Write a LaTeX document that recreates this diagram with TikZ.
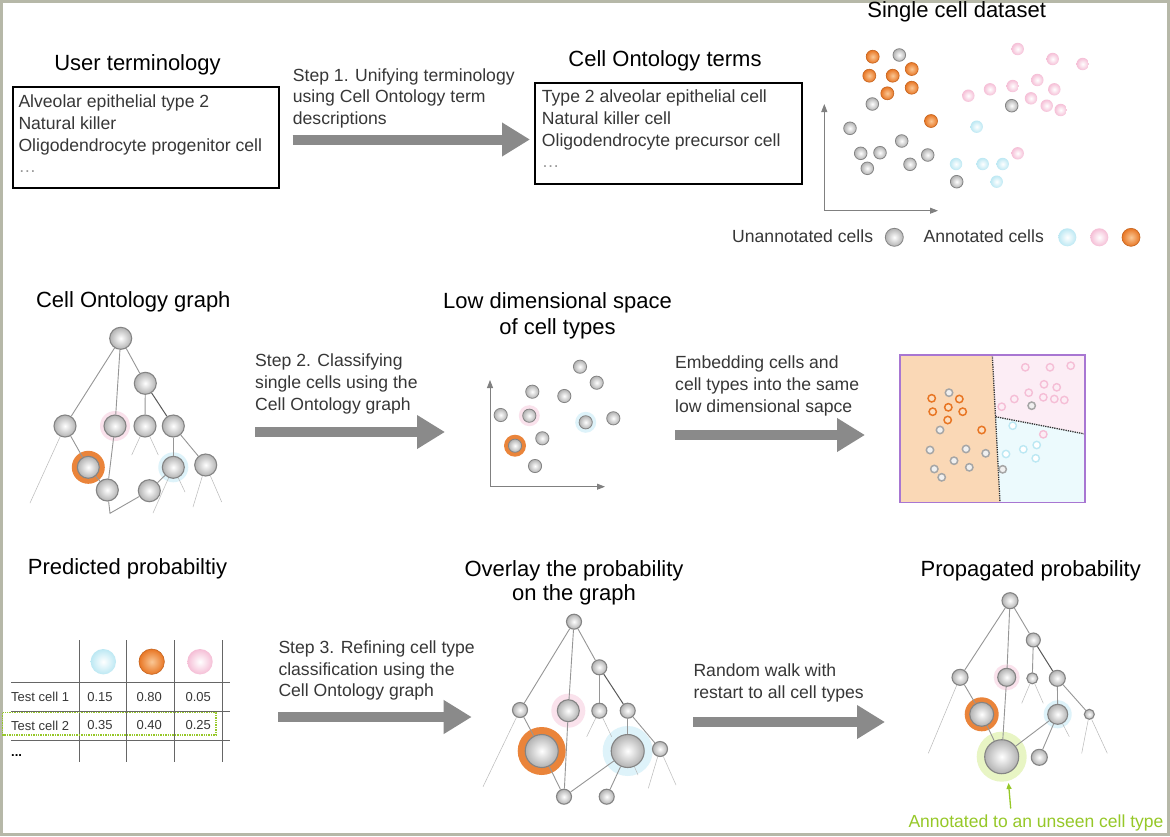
\documentclass[tikz,border=0pt]{standalone}
\usepackage{fontspec}
\setmainfont{Liberation Sans}
\usetikzlibrary{arrows.meta}
\definecolor{corange}{RGB}{232,118,36}
\definecolor{corangelt}{RGB}{250,200,150}
\definecolor{cpink}{RGB}{245,190,214}
\definecolor{cpinkhalo}{RGB}{250,226,236}
\definecolor{cblue}{RGB}{188,232,243}
\definecolor{cbluehalo}{RGB}{222,243,250}
\definecolor{cgreenhalo}{RGB}{232,245,196}
\definecolor{cgreen}{RGB}{150,200,40}
\definecolor{ballgray}{RGB}{178,178,178}
\definecolor{rimgray}{RGB}{132,132,132}
\definecolor{edgegray}{RGB}{150,150,150}
\definecolor{arrgray}{RGB}{138,138,138}
\definecolor{txtgray}{RGB}{55,55,55}
\definecolor{framecol}{RGB}{182,184,168}
\definecolor{cpurple}{RGB}{168,118,210}
\definecolor{cpeach}{RGB}{250,216,182}
\definecolor{cpinkfill}{RGB}{252,237,245}
\definecolor{cbluefill}{RGB}{236,250,253}
\begin{document}
\begin{tikzpicture}[x=1pt,y=-1pt,
  title/.style={font=\fontsize{22}{26.5}\selectfont, inner sep=0pt, align=center},
  body/.style={font=\fontsize{17.6}{21.6}\selectfont, text=txtgray, inner sep=0pt, align=left, anchor=north west},
  tabtext/.style={font=\fontsize{13}{15}\selectfont, text=txtgray, inner sep=0pt},
  gnode/.style={circle, inner sep=0pt, minimum size=#1, draw=rimgray, line width=1.1pt, inner color=white, outer color=ballgray},
  termbox/.style={draw=black, line width=1.8pt, inner sep=0pt, anchor=north west},
  edge/.style={draw=edgegray, line width=0.9pt},
  darkedge/.style={draw=black!65, line width=1pt},
  dangle/.style={draw=gray!55, line width=0.5pt},
  bigarrow/.style={draw=arrgray, line width=10pt, -{Triangle[length=28pt,width=32pt]}},
  axis/.style={draw=gray, line width=0.9pt, {Triangle[length=8pt,width=6pt]}-{Triangle[length=8pt,width=6pt]}},
  sgray/.style={draw=rimgray, line width=0.8pt, inner color=white, outer color=ballgray},
  sorange/.style={draw=corange!85!black, line width=0.6pt, inner color=corangelt, outer color=corange},
  spink/.style={inner color=white, outer color=cpink},
  sblue/.style={inner color=white, outer color=cblue},
  eorange/.style={draw=corange, line width=1.5pt, fill=corangelt!60!white},
  egray/.style={draw=gray!70, line width=1.5pt, fill=gray!12},
  epink/.style={draw=cpink, line width=1.4pt, fill=cpinkfill},
  eblue/.style={draw=cblue, line width=1.4pt, fill=white},
  garrow/.style={draw=cgreen, line width=1.3pt, -{Triangle[length=6pt,width=5pt]}}
]
\useasboundingbox (0,0) rectangle (1170,836);
\fill[white] (0,0) rectangle (1170,836);
\draw[framecol, line width=3pt] (1.5,1.5) rectangle (1168.5,834.5);

%% ---------------- Row 1 ----------------
\node[title] (t1) at (137.5,65) {User terminology};
\node[termbox, minimum width=266.6pt, minimum height=100.7pt] (box1) at (11.7,86) {};
\node[body] (box1txt) at (18.3,95) {Alveolar epithelial type 2\\Natural killer\\Oligodendrocyte progenitor cell\\{\color{gray!80}\ldots}};

\node[body] (s1txt) at (292.7,68.3) {Step 1. Unifying terminology\\using Cell Ontology term\\descriptions};
\coordinate (s1a) at (292.7,139.5);
\coordinate (s1b) at (530,139.5);
\draw[bigarrow] (s1a) -- (s1b);

\node[title] (t2) at (665,61) {Cell Ontology terms};
\node[termbox, minimum width=266.7pt, minimum height=101.6pt] (box2) at (534.3,81.7) {};
\node[body] (box2txt) at (541.7,90) {Type 2 alveolar epithelial cell\\Natural killer cell\\Oligodendrocyte precursor cell\\{\color{gray!80}\ldots}};

\node[title] (t3) at (956.7,11.5) {Single cell dataset};
\coordinate (ax1y) at (824.3,104);
\coordinate (ax1o) at (824.3,210.7);
\coordinate (ax1x) at (938,210.7);
\draw[axis] (ax1y) -- (ax1o) -- (ax1x);
\foreach \p in {(1017.7,49),(1052.7,59),(1082.7,64),(1037.3,80),(1054.3,89.3),(1012.7,86),(990,89.3),(968.3,95.7),(1031,98.3),(1046.7,105.7),(1060.7,110),(1017.7,153.3)}
  \path[spink] \p circle (6.2);
\foreach \p in {(976.7,126.7),(956,164),(982.7,164),(1002.7,164),(996.7,181.7)}
  \path[sblue] \p circle (6.2);
\foreach \p in {(899.3,55),(872.3,104),(850,128.3),(901.7,141),(860.7,153.3),(880,152.7),(927.7,155),(867.3,168.3),(910,164.3),(1011.7,105.7),(956.7,181.7)}
  \path[sgray] \p circle (6.3);
\foreach \p in {(872.7,56.7),(869.3,75.7),(892.7,75.7),(911.7,69),(887.3,93.3),(911.7,87.7),(931,121)}
  \path[sorange] \p circle (6.5);

\node[body, anchor=east] (leg1) at (873.3,236.2) {Unannotated cells};
\path[sgray] (894.3,237.3) circle (9);
\node[body, anchor=west] (leg2) at (923.3,236.2) {Annotated cells};
\path[sblue] (1067.3,237.3) circle (9);
\path[spink] (1099.3,237.3) circle (9);
\path[sorange] (1131,237.3) circle (9);

%% ---------------- Row 2 ----------------
\node[title] (t4) at (133.3,302) {Cell Ontology graph};
\fill[cpinkhalo] (115,426) circle (15);
\fill[cbluehalo] (173.3,467.3) circle (15);
\fill[corange!90] (88.3,467.3) circle (16.5);
\node[gnode=22pt] (a1) at (120.7,338.3) {};
\node[gnode=22pt] (a2) at (145.3,383.3) {};
\node[gnode=22pt] (a3) at (65,426) {};
\node[gnode=22pt] (a4) at (115,426) {};
\node[gnode=22pt] (a5) at (145,426) {};
\node[gnode=22pt] (a6) at (173.3,426) {};
\node[gnode=22pt] (a7) at (88.3,467.3) {};
\node[gnode=22pt] (a8) at (173.3,467.3) {};
\node[gnode=22pt] (a9) at (205.7,465) {};
\node[gnode=22pt] (a10) at (107.3,490) {};
\node[gnode=22pt] (a11) at (149.3,490.7) {};
\coordinate (j1) at (110,513.3);
\coordinate (ad1) at (30,503);
\coordinate (ad2) at (131.7,455);
\coordinate (ad3) at (158.3,455);
\coordinate (ad4) at (185,492);
\coordinate (ad5) at (153,513);
\coordinate (ad6) at (193,507);
\coordinate (ad7) at (221.7,502);
\draw[edge] (a1) -- (a3);
\draw[edge] (a1) -- (a4);
\draw[edge] (a1) -- (a2);
\draw[edge] (a2) -- (a5);
\draw[darkedge] (a2) -- (a6);
\draw[edge] (a3) -- (a7);
\draw[edge] (a4) -- (a10);
\draw[edge] (a6) -- (a8);
\draw[edge] (a6) -- (a9);
\draw[edge] (a7) -- (a10);
\draw[edge] (a10) -- (j1) -- (a11);
\draw[edge] (a11) -- (a8);
\draw[dangle] (a3) -- (ad1);
\draw[dangle] (a5) -- (ad2);
\draw[dangle] (a5) -- (ad3);
\draw[dangle] (a8) -- (ad4);
\draw[dangle] (a8) -- (ad5);
\draw[dangle] (a9) -- (ad6);
\draw[dangle] (a9) -- (ad7);

\node[body] (s2txt) at (255,354) {Step 2. Classifying\\single cells using the\\Cell Ontology graph};
\coordinate (s2a) at (255,432);
\coordinate (s2b) at (445,432);
\draw[bigarrow] (s2a) -- (s2b);

\node[title] (t5) at (557.5,316) {Low dimensional space\\of cell types};
\coordinate (ax2y) at (490,380);
\coordinate (ax2o) at (490,486.7);
\coordinate (ax2x) at (605,486.7);
\draw[axis] (ax2y) -- (ax2o) -- (ax2x);
\fill[cpinkhalo] (529.3,415.7) circle (10.5);
\fill[cbluehalo] (585.7,422.3) circle (10.5);
\fill[corange!90] (515,445.7) circle (11);
\foreach \p in {(580,366.7),(596.7,382.7),(532.3,391.7),(564.3,396),(500.7,415),(529.3,415.7),(585.7,422.3),(613.3,418.3),(542.3,438.3),(515,445.7),(535,466)}
  \path[sgray] \p circle (6.6);

\node[body] (s2btxt) at (675,356) {Embedding cells and\\cell types into the same\\low dimensional sapce};
\coordinate (s2c) at (675,435);
\coordinate (s2d) at (865,435);
\draw[bigarrow] (s2c) -- (s2d);

% embedding panel
\coordinate (eA) at (900,355);
\coordinate (eB) at (992.3,355);
\coordinate (eC) at (1085,355);
\coordinate (eD) at (1085,434);
\coordinate (eE) at (1085,502.7);
\coordinate (eF) at (1000,502.7);
\coordinate (eG) at (900,502.7);
\coordinate (eH) at (995.5,416.7);
\fill[cpeach] (eA) -- (eB) -- (eF) -- (eG) -- cycle;
\fill[cpinkfill] (eB) -- (eC) -- (eD) -- (eH) -- cycle;
\fill[cbluefill] (eH) -- (eD) -- (eE) -- (eF) -- cycle;
\draw[black!80, densely dotted, line width=1.3pt] (eB) -- (eF);
\draw[black!80, densely dotted, line width=1.3pt] (eH) -- (eD);
\draw[cpurple, line width=1.3pt] (eA) rectangle (eE);
\foreach \p in {(1025.3,367.3),(1050,367.3),(1070.7,365.7),(1044,384.3),(1056.7,387.3),(1028.7,392.7),(1014.3,399),(1043.3,397.3),(1054.3,399),(1064.3,400),(1001.7,406.7),(1043.3,434.3)}
  \path[epink] \p circle (3.7);
\foreach \p in {(1012.7,425.7),(1006,454),(1023.3,449.3),(1036.7,445),(1035.7,458.3)}
  \path[eblue] \p circle (3.7);
\foreach \p in {(949,392.7),(940,430),(930,450),(966,449),(985.7,453.3),(954,460.7),(934.3,469),(969.3,467.3),(941.7,477.3),(1002.7,469.3),(1031.7,405.7)}
  \path[egray] \p circle (3.7);
\foreach \p in {(931.7,398.3),(959.3,399),(932.7,411.7),(948.3,407.3),(962.7,411.7),(947.7,420),(981.7,430)}
  \path[eorange] \p circle (3.7);

%% ---------------- Row 3 ----------------
\node[title] (t6) at (127.5,569) {Predicted probabiltiy};
\draw[gray!80!black, line width=0.8pt] (79,640) -- (79,761.7) (126.7,640) -- (126.7,761.7) (174.3,640) -- (174.3,761.7) (222.3,640) -- (222.3,761.7);
\draw[gray!80!black, line width=0.8pt] (11,682.7) -- (230,682.7) (11,711.7) -- (230,711.7) (11,740.7) -- (230,740.7);
\path[sblue] (103.3,661.7) circle (12.7);
\path[sorange] (151.7,661.7) circle (12.7);
\path[spink] (200,661.7) circle (12.7);
\node[tabtext, anchor=west] (r1) at (11,697) {Test cell 1};
\node[tabtext] (v11) at (100,697) {0.15};
\node[tabtext] (v12) at (149.3,697) {0.80};
\node[tabtext] (v13) at (198.3,697) {0.05};
\node[tabtext, anchor=west] (r2) at (11,725.5) {Test cell 2};
\node[tabtext] (v21) at (100,725.5) {0.35};
\node[tabtext] (v22) at (149.3,725.5) {0.40};
\node[tabtext] (v23) at (198.3,725.5) {0.25};
\node[tabtext, anchor=base west, text=black] (r3) at (11,756) {\textbf{...}};
\draw[cgreen, densely dotted, line width=1.4pt] (2.7,712.7) rectangle (216,735);

\node[body] (s3txt) at (278.3,640.7) {Step 3. Refining cell type\\classification using the\\Cell Ontology graph};
\coordinate (s3a) at (278.3,717);
\coordinate (s3b) at (471.7,717);
\draw[bigarrow] (s3a) -- (s3b);

\node[title, font=\fontsize{22}{24}\selectfont] (t7) at (574,582.5) {Overlay the probability\\on the graph};
\fill[cpinkhalo] (568.3,710.7) circle (17);
\fill[cbluehalo] (627.7,751) circle (25);
\fill[corange!90] (541.7,751) circle (24);
\node[gnode=15pt] (b1) at (574,621.7) {};
\node[gnode=15pt] (b2) at (599.3,667.3) {};
\node[gnode=15pt] (b3) at (520,710) {};
\node[gnode=22pt] (b4) at (568.3,710.7) {};
\node[gnode=15pt] (b5) at (599.3,710.7) {};
\node[gnode=15pt] (b6) at (627.7,710.7) {};
\node[gnode=33pt] (b7) at (541.7,751) {};
\node[gnode=33pt] (b8) at (627.7,751) {};
\node[gnode=15pt] (b9) at (660,749) {};
\node[gnode=15pt] (b10) at (564,796.7) {};
\node[gnode=15pt] (b11) at (606.7,796.7) {};
\coordinate (bd1) at (483,786.7);
\coordinate (bd2) at (586.7,736.7);
\coordinate (bd3) at (611.7,736.7);
\coordinate (bd4) at (638,775);
\coordinate (bd5) at (648.3,788.3);
\coordinate (bd6) at (676,785);
\draw[edge] (b1) -- (b3);
\draw[edge] (b1) -- (b4);
\draw[edge] (b1) -- (b2);
\draw[edge] (b2) -- (b5);
\draw[darkedge] (b2) -- (b6);
\draw[edge] (b3) -- (b7);
\draw[edge] (b4) -- (b10);
\draw[edge] (b6) -- (b8);
\draw[edge] (b6) -- (b9);
\draw[edge] (b7) -- (b10);
\draw[edge] (b10) -- (b8);
\draw[edge] (b8) -- (b11);
\draw[dangle] (b3) -- (bd1);
\draw[dangle] (b5) -- (bd2);
\draw[dangle] (b5) -- (bd3);
\draw[dangle] (b8) -- (bd4);
\draw[dangle] (b9) -- (bd5);
\draw[dangle] (b9) -- (bd6);

\node[body] (s4txt) at (693.3,664) {Random walk with\\restart to all cell types};
\coordinate (s4a) at (693.3,722);
\coordinate (s4b) at (885,722);
\draw[bigarrow] (s4a) -- (s4b);

\node[title] (t8) at (1030.8,571) {Propagated probability};
\fill[cpinkhalo] (1006.7,677.3) circle (13);
\fill[cbluehalo] (1057.7,714.3) circle (14);
\fill[corange!90] (981.7,714.3) circle (17);
\fill[cgreenhalo] (1001.7,756.7) circle (25);
\node[gnode=16pt] (c1) at (1010,600.7) {};
\node[gnode=14pt] (c2) at (1033.3,640) {};
\node[gnode=16pt] (c3) at (960,677.3) {};
\node[gnode=18pt] (c4) at (1006.7,677.3) {};
\node[gnode=11pt] (c5) at (1032.3,678.3) {};
\node[gnode=16pt] (c6) at (1057.3,678.3) {};
\node[gnode=24pt] (c7) at (981.7,714.3) {};
\node[gnode=20pt] (c8) at (1057.7,714.3) {};
\node[gnode=10pt] (c9) at (1089.3,714.3) {};
\node[gnode=34pt] (c10) at (1001.7,756.7) {};
\node[gnode=16pt] (c11) at (1039.3,757.3) {};
\coordinate (cd1) at (928.3,753.3);
\coordinate (cd2) at (1021.7,703.3);
\coordinate (cd3) at (1043.3,703.3);
\coordinate (cd4) at (1069.3,736.7);
\coordinate (cd5) at (1081.7,753.3);
\coordinate (cd6) at (1107.3,753.3);
\draw[edge] (c1) -- (c3);
\draw[edge] (c1) -- (c4);
\draw[edge] (c1) -- (c2);
\draw[edge] (c2) -- (c5);
\draw[darkedge] (c2) -- (c6);
\draw[edge] (c3) -- (c7);
\draw[edge] (c4) -- (c10);
\draw[edge] (c6) -- (c8);
\draw[edge] (c6) -- (c9);
\draw[edge] (c7) -- (c10);
\draw[edge] (c10) -- (c8);
\draw[edge] (c8) -- (c11);
\draw[dangle] (c3) -- (cd1);
\draw[dangle] (c5) -- (cd2);
\draw[dangle] (c5) -- (cd3);
\draw[dangle] (c8) -- (cd4);
\draw[dangle] (c9) -- (cd5);
\draw[dangle] (c9) -- (cd6);

\node[font=\fontsize{17.5}{20}\selectfont, text=cgreen, inner sep=0pt, anchor=west] (ann) at (908.3,823.3) {Annotated to an unseen cell type};
\coordinate (g0) at (1010.7,808.5);
\coordinate (g1) at (1008.5,783);
\draw[garrow] (g0) -- (g1);
\end{tikzpicture}
\end{document}
